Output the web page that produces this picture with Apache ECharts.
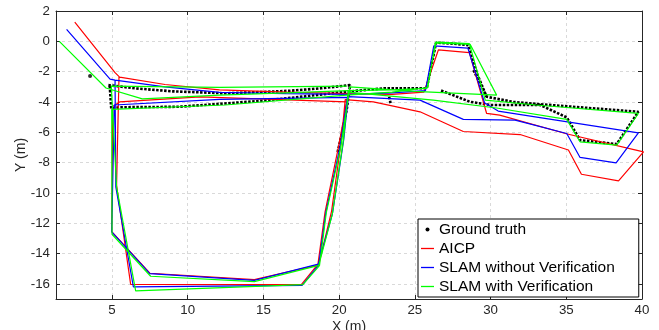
<!DOCTYPE html>
<html>
<head>
<meta charset="utf-8">
<script src="https://cdn.jsdelivr.net/npm/echarts@6/dist/echarts.min.js"></script>
<style>
html,body{margin:0;padding:0;background:#fff;}
#chart{width:659px;height:330px;}
</style>
</head>
<body>
<div id="chart"></div>
<script>
// ---- data (metres) ----
const xTicks = [5, 10, 15, 20, 25, 30, 35, 40];
const yTicks = [-16, -14, -12, -10, -8, -6, -4, -2, 0, 2];

const gtStart = [[3.55, -2.29]];
const gtUpper = [[4.76,-2.89],[6.5,-3.1],[9.0,-3.3],[12.46,-3.43],[14.8,-3.35],[16.76,-3.26],[18.8,-3.1],[20.72,-2.89],[20.5,-4.5],[20.2,-6.0],[19.9,-7.3]];
const gtLower = [[4.85,-2.95],[4.95,-4.45],[5.5,-4.35],[9.38,-4.32],[12.46,-4.1],[15.2,-3.9],[18.0,-3.6],[20.7,-3.3],[23.0,-3.1],[25.78,-3.1],[26.1,-1.6],[26.4,-0.09],[27.5,-0.15],[28.53,-0.25],[29.09,-2.1],[29.74,-3.66],[31.5,-4.0],[33.27,-4.15],[36.5,-4.4],[39.76,-4.65],[38.33,-6.78],[35.91,-6.52],[35.03,-5.02],[33.27,-4.2],[29.97,-4.2],[28.64,-3.99],[26.66,-3.22]];
const gtDiagonal = [[28.87,-1.9],[29.74,-3.66]];
const gtBlob = [[23.3,-3.66],[23.4,-4.1]];

const aicp = [[2.54,1.27],[5.2,-2.07],[5.5,-2.36],[8.5,-2.85],[12.1,-3.2],[16.5,-3.35],[20.6,-3.45],[23.5,-3.5],[25.6,-3.35],[26.55,-0.57],[28.6,-0.75],[29.74,-4.76],[30.6,-4.87],[35.0,-6.1],[40.1,-7.29],[38.45,-9.21],[36.0,-8.77],[35.14,-7.17],[31.95,-6.15],[28.2,-5.95],[25.34,-4.65],[22.26,-3.99],[20.4,-3.85],[20.15,-6.5],[19.5,-11.2],[18.65,-14.75],[14.4,-15.72],[7.5,-15.3],[4.98,-12.55],[5.05,-4.3],[5.5,-4.0],[10.8,-3.66],[20.5,-3.99],[19.95,-7.0],[19.07,-11.25],[18.6,-14.7],[17.5,-16.05],[6.23,-16.03],[5.3,-9.5],[5.46,-2.36]];

const slamNoVerif = [[2.0,0.79],[4.87,-2.49],[5.2,-2.56],[8.5,-3.0],[12.1,-3.37],[16.5,-3.45],[20.6,-3.5],[23.5,-3.4],[25.7,-3.25],[26.25,-0.3],[28.5,-0.45],[29.6,-4.05],[30.5,-4.6],[39.76,-6.04],[38.29,-8.02],[35.91,-7.66],[35.03,-6.08],[31.62,-5.2],[28.2,-5.15],[25.34,-3.88],[20.6,-3.65],[20.3,-6.5],[19.55,-11.4],[18.62,-14.7],[14.4,-15.77],[7.5,-15.33],[4.98,-12.57],[5.15,-4.2],[12.1,-3.83],[20.55,-3.7],[20.05,-7.0],[19.12,-11.3],[18.65,-14.75],[17.55,-16.1],[6.41,-16.2],[5.25,-9.6],[5.2,-2.56]];

const slamVerif = [[1.52,0.0],[4.6,-3.08],[7.0,-3.8],[12.1,-3.55],[16.5,-3.4],[20.6,-3.25],[23.5,-3.2],[25.8,-3.1],[26.4,-0.05],[28.6,-0.15],[29.65,-3.88],[33.0,-4.2],[39.76,-4.76],[38.33,-6.85],[35.91,-6.63],[35.03,-5.15],[30.4,-4.4],[26.22,-3.88],[20.6,-3.35],[20.28,-6.52],[19.55,-11.4],[18.65,-14.78],[14.4,-15.85],[7.55,-15.5],[5.0,-12.73],[4.98,-4.49],[12.46,-4.2],[20.5,-3.55],[23.5,-3.35],[25.85,-3.05],[26.35,-0.1],[28.65,-0.2],[30.4,-3.55],[25.0,-3.3],[20.7,-3.0],[20.1,-7.0],[19.15,-11.3],[18.7,-14.8],[17.6,-16.05],[6.56,-16.47],[5.3,-9.6],[4.95,-2.95],[12.1,-3.04],[20.5,-2.95]];

const names = ['Ground truth', 'AICP', 'SLAM without Verification', 'SLAM with Verification'];

// ---- chart ----
const FONT = '"Liberation Sans", Arial, Helvetica, sans-serif';
const AX = '#262626';
const chart = echarts.init(document.getElementById('chart'), null, {renderer: 'canvas'});

function gtLine(data) {
  return {
    name: names[0], type: 'line', data: data, symbol: 'none', z: 2,
    lineStyle: {color: '#000', width: 2.6, type: [2.5, 1.5]},
    itemStyle: {color: '#000'}, animation: false
  };
}
function track(name, data, color) {
  return {
    name: name, type: 'line', data: data, symbol: 'none', showSymbol: false, z: 3,
    lineStyle: {color: color, width: 1.2},
    itemStyle: {color: color}, animation: false
  };
}

const xMin = 1.3, xMax = 40, yMin = -17, yMax = 2;
const LINE_ICON = 'path://M0,0L13,0L13,1.3L0,1.3Z';

chart.setOption({
  animation: false,
  backgroundColor: '#fff',
  grid: {left: 56, right: 17, top: 11, bottom: 31, containLabel: false, outerBoundsMode: 'none'},
  xAxis: [{
    type: 'value', min: xMin, max: xMax, position: 'bottom',
    name: 'X (m)', nameLocation: 'middle', nameGap: 21, nameMoveOverlap: false,
    nameTextStyle: {fontFamily: FONT, fontSize: 14, color: AX, verticalAlign: 'top'},
    axisLine: {show: true, onZero: false, lineStyle: {color: AX, width: 1}},
    axisTick: {show: true, inside: true, length: 4, customValues: xTicks, lineStyle: {color: AX}},
    axisLabel: {customValues: xTicks, margin: 5, fontFamily: FONT, fontSize: 13.3, color: AX},
    splitLine: {show: true, lineStyle: {color: '#d9d9d9', type: [3, 3], width: 1}}
  }, {
    type: 'value', min: xMin, max: xMax, position: 'top',
    axisLine: {show: true, onZero: false, lineStyle: {color: AX, width: 1}},
    axisTick: {show: true, inside: true, length: 4, customValues: xTicks, lineStyle: {color: AX}},
    axisLabel: {show: false}, splitLine: {show: false}
  }],
  yAxis: [{
    type: 'value', min: yMin, max: yMax, position: 'left',
    name: 'Y (m)', nameLocation: 'middle', nameGap: 28, nameRotate: 90, nameMoveOverlap: false,
    nameTextStyle: {fontFamily: FONT, fontSize: 14, color: AX},
    axisLine: {show: true, onZero: false, lineStyle: {color: AX, width: 1}},
    axisTick: {show: true, inside: true, length: 4, customValues: yTicks, lineStyle: {color: AX}},
    axisLabel: {customValues: yTicks, margin: 6, fontFamily: FONT, fontSize: 13.3, color: AX},
    splitLine: {show: true, lineStyle: {color: '#d9d9d9', type: [3, 3], width: 1}}
  }, {
    type: 'value', min: yMin, max: yMax, position: 'right',
    axisLine: {show: true, onZero: false, lineStyle: {color: AX, width: 1}},
    axisTick: {show: true, inside: true, length: 4, customValues: yTicks, lineStyle: {color: AX}},
    axisLabel: {show: false}, splitLine: {show: false}
  }],
  legend: {
    orient: 'vertical', left: 418, top: 219,
    padding: [2, 24, 2, 3], itemGap: 2,
    itemWidth: 13, itemHeight: 4,
    backgroundColor: '#fff', borderColor: '#000', borderWidth: 1, borderRadius: 0,
    textStyle: {fontFamily: FONT, fontSize: 15.5, color: '#000', lineHeight: 17},
    data: [
      {name: names[0], icon: 'circle'},
      {name: names[1], icon: LINE_ICON},
      {name: names[2], icon: LINE_ICON},
      {name: names[3], icon: LINE_ICON}
    ]
  },
  series: [
    gtLine(gtUpper), gtLine(gtLower), gtLine(gtDiagonal), gtLine(gtBlob),
    {name: names[0], type: 'scatter', data: gtStart, symbolSize: 4, itemStyle: {color: '#000'}, z: 2},
    track(names[1], aicp, '#ff0000'),
    track(names[2], slamNoVerif, '#0000ff'),
    track(names[3], slamVerif, '#00ff00')
  ]
});
</script>
</body>
</html>
